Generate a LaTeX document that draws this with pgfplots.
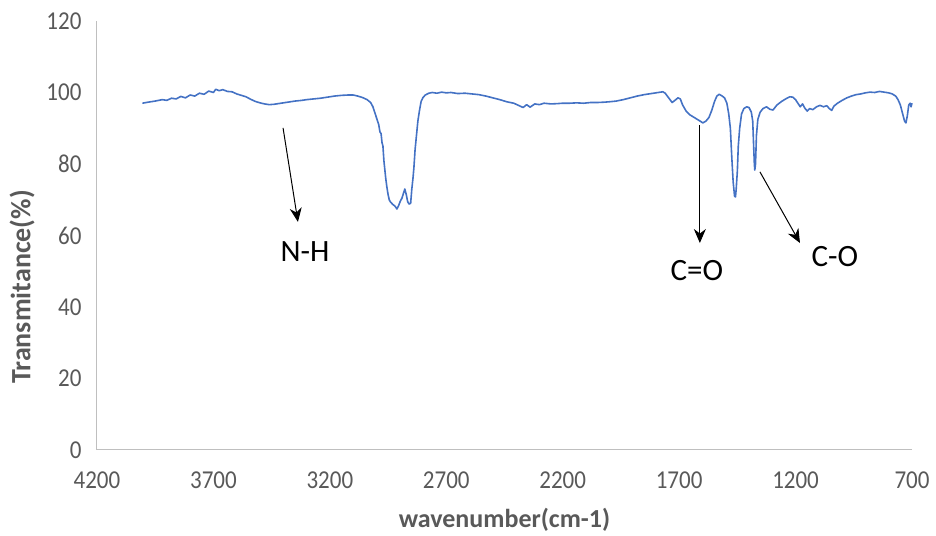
\documentclass[border=0pt]{standalone}
\usepackage{fontspec}
\setmainfont{Carlito}
\usepackage{pgfplots}
\pgfplotsset{compat=1.18}
\usetikzlibrary{arrows.meta}
\definecolor{serie}{HTML}{4472C4}
\definecolor{txt}{HTML}{595959}
\definecolor{spine}{HTML}{BFBFBF}
\begin{document}
\begin{tikzpicture}[x=1pt,y=1pt]
\path (0,0) rectangle (936,535);
\begin{axis}[
  at={(97pt,85pt)}, anchor=south west,
  scale only axis, width=815pt, height=429pt,
  x dir=reverse, xmin=700, xmax=4200, ymin=0, ymax=120,
  xtick={700,1200,1700,2200,2700,3200,3700,4200},
  ytick={0,20,40,60,80,100,120},
  axis x line*=bottom, axis y line*=left,
  axis line style={spine, line width=1pt, -},
  major tick length=0pt,
  /pgf/number format/assume math mode=true,
  /pgf/number format/1000 sep={},
  ticklabel style={font=\fontsize{23}{26}\selectfont, text=txt, yscale=1.12},
  xticklabel style={yshift=-16pt},
  yticklabel style={xshift=-12pt},
  xlabel={\textbf{wavenumber(cm-1)}},
  ylabel={\textbf{Transmitance(\%)}},
  xlabel style={font=\fontsize{26}{29}\selectfont, text=txt, at={(axis description cs:0.5,0)}, anchor=center, yshift=-70pt},
  ylabel style={font=\fontsize{28}{31}\selectfont, text=txt, at={(axis description cs:-0.092,0.38)}, anchor=center},
  clip=false,
]
\addplot[serie, line width=1.6pt, line join=round] table {
x y
4005 97.0
3980 97.3
3950 97.6
3920 98.0
3900 97.8
3880 98.4
3860 98.2
3840 98.9
3820 98.5
3800 99.3
3780 99.0
3760 99.8
3740 99.5
3720 100.4
3700 100.0
3690 100.9
3675 100.5
3660 100.8
3640 100.3
3620 100.2
3600 99.6
3580 99.2
3560 98.8
3540 98.1
3520 97.5
3500 97.1
3480 96.8
3460 96.6
3440 96.7
3420 96.9
3400 97.1
3380 97.3
3350 97.6
3320 97.8
3300 98.0
3270 98.2
3240 98.4
3210 98.7
3180 99.0
3150 99.2
3120 99.3
3100 99.3
3080 99.0
3060 98.6
3040 98.0
3025 97.2
3015 96.0
3005 94.0
2995 92.0
2990 91.0
2985 89.0
2980 88.5
2976 86.0
2972 85.0
2968 81.0
2964 78.5
2960 76.0
2955 73.5
2950 71.5
2945 70.0
2940 69.4
2930 68.7
2920 68.2
2912 67.4
2905 68.3
2898 69.5
2890 70.5
2883 72.0
2878 73.0
2872 71.5
2866 69.5
2860 68.8
2853 69.0
2848 73.0
2843 76.0
2839 79.0
2834 84.0
2828 88.0
2822 92.0
2815 95.0
2808 97.5
2800 98.6
2790 99.3
2775 99.8
2760 100.0
2740 99.8
2720 100.1
2700 99.9
2680 100.0
2650 99.7
2620 99.8
2590 99.6
2560 99.4
2530 99.0
2500 98.5
2470 98.0
2440 97.4
2410 97.0
2390 96.4
2370 95.8
2355 96.6
2340 95.9
2320 96.8
2300 96.6
2280 97.0
2250 96.8
2220 96.9
2200 97.0
2170 97.0
2140 97.1
2110 97.0
2080 97.2
2050 97.2
2020 97.3
2000 97.4
1970 97.6
1940 98.0
1910 98.5
1880 99.0
1850 99.4
1820 99.7
1790 100.0
1770 100.2
1760 99.8
1745 98.5
1730 97.2
1718 97.8
1705 98.5
1695 98.2
1685 96.5
1670 94.8
1655 93.8
1640 93.2
1625 92.6
1610 92.0
1598 91.5
1585 92.0
1572 93.0
1560 95.0
1548 97.5
1538 99.0
1528 99.5
1515 99.0
1505 98.5
1495 97.0
1487 94.0
1480 90.0
1474 82.0
1468 75.0
1462 71.0
1458 70.8
1455 73.0
1450 78.0
1446 85.0
1440 90.0
1432 94.0
1422 95.5
1410 96.0
1400 95.8
1390 94.5
1384 92.0
1380 85.0
1377 80.0
1375 78.3
1372 80.0
1368 88.0
1362 92.5
1352 94.5
1340 95.5
1325 96.0
1310 95.3
1297 95.1
1280 96.5
1260 97.5
1240 98.3
1225 98.8
1212 98.7
1200 98.0
1190 97.0
1180 96.0
1170 96.8
1160 95.6
1150 94.8
1140 95.5
1126 95.2
1110 96.0
1095 96.4
1080 96.0
1066 96.3
1055 95.5
1045 95.0
1035 96.2
1020 97.0
1000 97.8
980 98.5
960 99.0
940 99.4
920 99.6
900 99.9
880 100.1
860 100.0
840 100.3
820 100.1
800 99.9
785 99.6
770 99.0
760 98.0
750 96.5
740 94.0
732 92.0
726 91.5
720 93.5
714 96.5
708 97.0
704 96.0
700 97.0
};
\draw[black, line width=1pt, -{Stealth[length=14pt,width=12pt]}] (axis cs:3401,90.1) -- (axis cs:3337,63.8);
\draw[black, line width=1pt, -{Stealth[length=14pt,width=12pt]}] (axis cs:1611,90.9) -- (axis cs:1611,57.9);
\draw[black, line width=1pt, -{Stealth[length=14pt,width=12pt]}] (axis cs:1353,77.8) -- (axis cs:1181,57.9);
\node[font=\fontsize{31}{34}\selectfont] at (axis cs:3307,55.4) {N-H};
\node[font=\fontsize{31}{34}\selectfont] at (axis cs:1624,50.3) {C=O};
\node[font=\fontsize{31}{34}\selectfont] at (axis cs:1031,54.0) {C-O};
\end{axis}
\end{tikzpicture}
\end{document}
